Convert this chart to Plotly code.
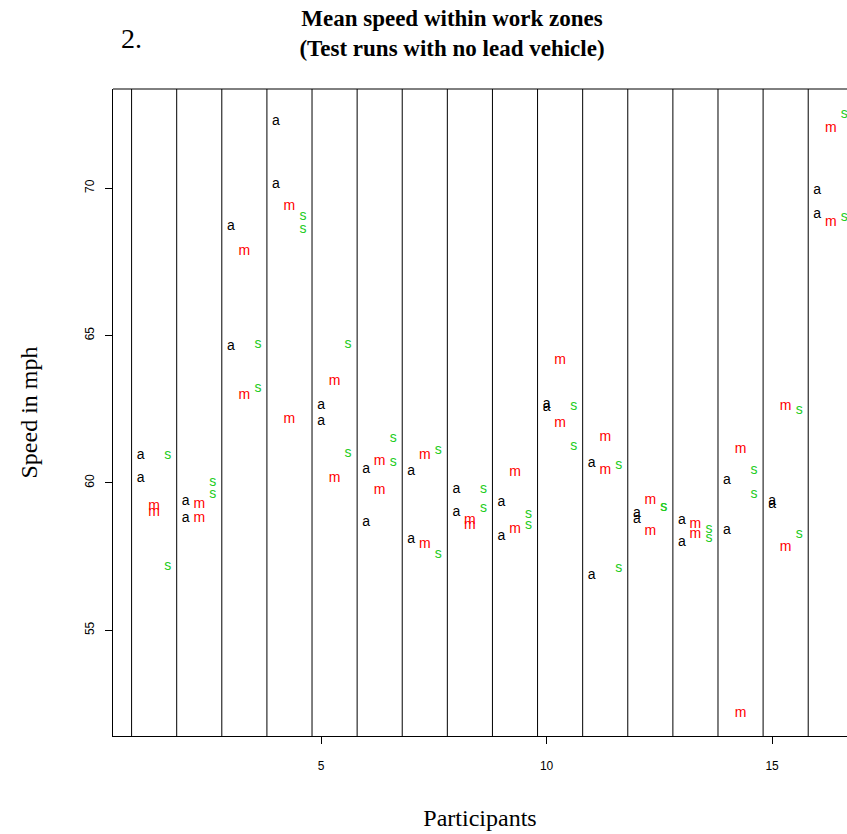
import plotly.graph_objects as go

participants = list(range(1, 17))

# Two test runs per participant, for each of the three conditions (a, m, s)
a_run1 = [60.94, 59.36, 68.70, 72.27, 62.63, 60.45, 60.37, 59.78, 59.34, 62.66, 60.66, 58.96, 58.71, 60.07, 59.36, 69.91]
a_run2 = [60.15, 58.79, 64.63, 70.13, 62.09, 58.66, 58.08, 59.00, 58.19, 62.56, 56.87, 58.77, 57.98, 58.37, 59.27, 69.09]
m_run1 = [59.19, 59.28, 67.86, 69.36, 63.42, 60.71, 60.92, 58.71, 60.35, 64.16, 61.54, 59.41, 58.59, 61.13, 62.60, 72.01]
m_run2 = [58.98, 58.78, 62.96, 62.15, 60.16, 59.73, 57.91, 58.54, 58.42, 62.01, 60.41, 58.36, 58.23, 52.18, 57.79, 68.84]
s_run1 = [60.92, 60.00, 64.69, 69.05, 64.69, 61.51, 61.11, 59.78, 58.93, 62.58, 60.58, 59.15, 58.42, 60.41, 62.46, 72.50]
s_run2 = [57.15, 59.62, 63.19, 68.61, 61.00, 60.68, 57.57, 59.13, 58.54, 61.24, 57.10, 59.15, 58.12, 59.60, 58.23, 68.99]

x_ticks = [5, 10, 15]
y_ticks = [55, 60, 65, 70]

series = [
    ("a", "#000000", 0.0, a_run1, a_run2),
    ("m", "#FF0000", 0.3, m_run1, m_run2),
    ("s", "#22CC22", 0.6, s_run1, s_run2),
]

fig = go.Figure()
for label, color, off, r1, r2 in series:
    xs = [p + off for p in participants] * 2
    ys = list(r1) + list(r2)
    fig.add_trace(go.Scatter(
        x=xs, y=ys, mode="text", text=[label] * len(xs),
        textposition="middle center",
        textfont=dict(family="Liberation Sans, Arial, sans-serif", size=14, color=color),
        showlegend=False, hoverinfo="skip",
    ))

# separators between participants
for p in [0] + participants[:-1]:
    fig.add_vline(x=p + 0.8, line=dict(color="#000000", width=1))

fig.update_layout(
    width=847, height=834,
    margin=dict(l=113, r=0, t=89, b=98),
    plot_bgcolor="white", paper_bgcolor="white",
    title=dict(
        text="<b>Mean speed within work zones<br>(Test runs with no lead vehicle)</b>",
        x=452 / 847, xanchor="center", y=1 - 26 / 834, yanchor="middle",
        font=dict(family="Liberation Serif, Times New Roman, serif", size=23, color="black"),
    ),
    annotations=[dict(
        text="2.", xref="paper", yref="paper", x=(131 - 113) / 734, y=1 + (89 - 38) / 647,
        xanchor="center", yanchor="middle", showarrow=False,
        font=dict(family="Liberation Serif, Times New Roman, serif", size=28, color="black"),
    )],
)

fig.update_xaxes(
    range=[0.388, 16.66], tickvals=x_ticks, ticks="outside", ticklen=7, tickcolor="black",
    ticklabelstandoff=12,
    showgrid=False, zeroline=False, showline=True, linecolor="black", linewidth=1, mirror=False,
    tickfont=dict(family="Liberation Sans, Arial, sans-serif", size=12, color="black"),
    title=dict(text="Participants", standoff=36,
               font=dict(family="Liberation Serif, Times New Roman, serif", size=24, color="black")),
)
fig.update_yaxes(
    range=[51.41, 73.36], tickvals=y_ticks, ticks="outside", ticklen=7, tickcolor="black",
    tickangle=-90, ticklabelstandoff=6,
    showgrid=False, zeroline=False, showline=True, linecolor="black", linewidth=1, mirror=False,
    tickfont=dict(family="Liberation Sans, Arial, sans-serif", size=12, color="black"),
    title=dict(text="Speed in mph", standoff=38,
               font=dict(family="Liberation Serif, Times New Roman, serif", size=24, color="black")),
)
# top border of the plot box
fig.add_shape(type="line", xref="paper", yref="paper", x0=0, x1=1, y0=1, y1=1,
              line=dict(color="black", width=1))

fig.write_html("out.html")
